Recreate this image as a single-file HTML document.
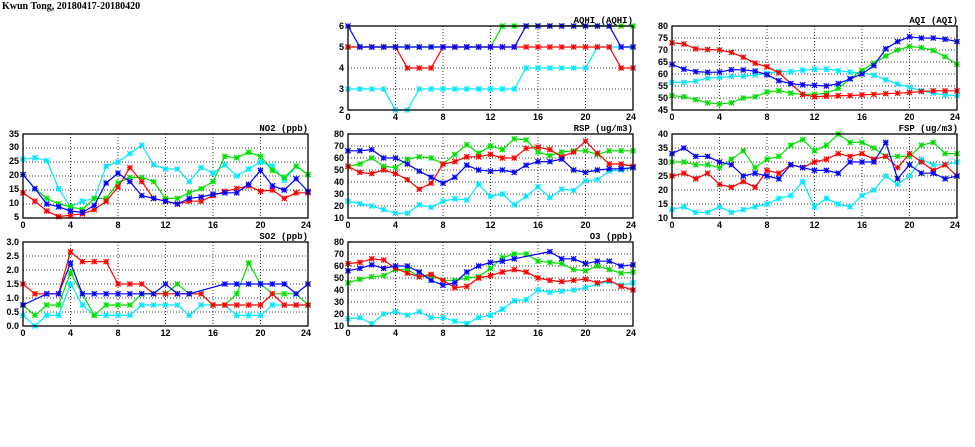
<!DOCTYPE html>
<html><head><meta charset="utf-8"><style>
html,body{margin:0;padding:0;background:#fff;}
svg{display:block;}
.t{font-family:"Liberation Serif",serif;font-weight:bold;font-size:10px;}
.ti{font-family:"Liberation Mono",monospace;font-weight:bold;font-size:9px;}
.tk{font-family:"Liberation Sans",sans-serif;font-weight:bold;font-size:9px;}
</style></head><body>
<svg id="s" width="975" height="447" viewBox="0 0 975 447" xmlns="http://www.w3.org/2000/svg">
<text class="t" x="2" y="9">Kwun Tong, 20180417-20180420</text>
<g id="plots"></g>
<!-- titles -->
<g class="ti" text-anchor="end">
<text x="308" y="131">NO2 (ppb)</text>
<text x="308" y="239">SO2 (ppb)</text>
<text x="633" y="23">AQHI (AQHI)</text>
<text x="633" y="131">RSP (ug/m3)</text>
<text x="633" y="239">O3 (ppb)</text>
<text x="958" y="23">AQI (AQI)</text>
<text x="958" y="131">FSP (ug/m3)</text>
</g>
<!-- y tick labels -->
<g class="tk" text-anchor="end">
<text x="19" y="220">5</text><text x="19" y="206">10</text><text x="19" y="192">15</text><text x="19" y="178">20</text><text x="19" y="164">25</text><text x="19" y="150">30</text><text x="19" y="137">35</text>
<text x="19" y="329">0.0</text><text x="19" y="315">0.5</text><text x="19" y="301">1.0</text><text x="19" y="287">1.5</text><text x="19" y="273">2.0</text><text x="19" y="259">2.5</text><text x="19" y="245">3.0</text>
<text x="344" y="113">2</text><text x="344" y="92">3</text><text x="344" y="71">4</text><text x="344" y="50">5</text><text x="344" y="29">6</text>
<text x="344" y="221">10</text><text x="344" y="209">20</text><text x="344" y="197">30</text><text x="344" y="185">40</text><text x="344" y="173">50</text><text x="344" y="161">60</text><text x="344" y="149">70</text><text x="344" y="137">80</text>
<text x="344" y="329">10</text><text x="344" y="317">20</text><text x="344" y="305">30</text><text x="344" y="293">40</text><text x="344" y="281">50</text><text x="344" y="269">60</text><text x="344" y="257">70</text><text x="344" y="245">80</text>
<text x="668" y="113">45</text><text x="668" y="101">50</text><text x="668" y="89">55</text><text x="668" y="77">60</text><text x="668" y="65">65</text><text x="668" y="53">70</text><text x="668" y="41">75</text><text x="668" y="29">80</text>
<text x="668" y="221">10</text><text x="668" y="207">15</text><text x="668" y="193">20</text><text x="668" y="179">25</text><text x="668" y="165">30</text><text x="668" y="151">35</text><text x="668" y="137">40</text>
</g>
<!-- x tick labels -->
<g class="tk" text-anchor="middle">
<text x="23" y="228">0</text><text x="70.5" y="228">4</text><text x="118" y="228">8</text><text x="165.5" y="228">12</text><text x="213" y="228">16</text><text x="260.5" y="228">20</text><text x="306" y="228">24</text>
<text x="23" y="336">0</text><text x="70.5" y="336">4</text><text x="118" y="336">8</text><text x="165.5" y="336">12</text><text x="213" y="336">16</text><text x="260.5" y="336">20</text><text x="306" y="336">24</text>
<text x="348" y="120">0</text><text x="395.5" y="120">4</text><text x="443" y="120">8</text><text x="490.5" y="120">12</text><text x="538" y="120">16</text><text x="585.5" y="120">20</text><text x="631" y="120">24</text>
<text x="348" y="228">0</text><text x="395.5" y="228">4</text><text x="443" y="228">8</text><text x="490.5" y="228">12</text><text x="538" y="228">16</text><text x="585.5" y="228">20</text><text x="631" y="228">24</text>
<text x="348" y="336">0</text><text x="395.5" y="336">4</text><text x="443" y="336">8</text><text x="490.5" y="336">12</text><text x="538" y="336">16</text><text x="585.5" y="336">20</text><text x="631" y="336">24</text>
<text x="672" y="120">0</text><text x="719.5" y="120">4</text><text x="767" y="120">8</text><text x="814.5" y="120">12</text><text x="862" y="120">16</text><text x="909.5" y="120">20</text><text x="955" y="120">24</text>
<text x="672" y="228">0</text><text x="719.5" y="228">4</text><text x="767" y="228">8</text><text x="814.5" y="228">12</text><text x="862" y="228">16</text><text x="909.5" y="228">20</text><text x="955" y="228">24</text>
</g>
</svg>
<script>
var W=285,H=84,NS="http://www.w3.org/2000/svg",g=document.getElementById("plots");
function el(n,a){var e=document.createElementNS(NS,n);for(var k in a)e.setAttribute(k,a[k]);g.appendChild(e);return e;}
var C={c:"#00e8ff",g:"#00e000",r:"#ff0000",b:"#0000ff"};
var P=[
{x:23,y:134,mn:5,mx:35,st:5,d:{
c:[26,26.5,25.5,15.5,9,11,12,23.5,25,28,31,24,22.5,22.5,18,23,21,24,20,22.5,25,23.5,18.5,23.5,20.5],
g:[20.5,15.5,12,10,9,8,12,12,17.5,19.5,19.5,18,12,12,14,15.5,18,27,26.5,28.5,27,22,19.5,23.5,20.5],
r:[14,11,7.5,5.5,6,6.5,8,11,16,23,18,12,11,10,11,11,13,14.5,15.5,16.5,14.5,15,12,14,14],
b:[20.5,15.5,10,9,7.5,7,9.5,17.5,21,18,13,12,11,10,12,12.5,13.5,14,14,17,22,16.5,15,19,14.5]}},
{x:23,y:242,mn:0,mx:3,st:0.5,d:{
c:[0.38,0,0.38,0.38,1.5,0.75,0.38,0.38,0.38,0.38,0.75,0.75,0.75,0.75,0.38,0.75,0.75,0.75,0.38,0.38,0.38,0.75,0.75,0.75,0.75],
g:[0.75,0.38,0.75,0.75,1.9,1.15,0.38,0.75,0.75,0.75,1.15,1.15,1.15,1.5,1.15,1.15,0.75,0.75,1.15,2.25,1.5,1.15,1.15,1.15,0.75],
r:[1.5,1.15,1.15,1.15,2.65,2.3,2.3,2.3,1.5,1.5,1.5,1.15,1.15,1.15,1.15,1.15,0.75,0.75,0.75,0.75,0.75,1.15,0.75,0.75,0.75],
b:[0.75,null,1.15,1.15,2.25,1.15,1.15,1.15,1.15,1.15,1.15,1.15,1.5,1.15,1.15,null,null,1.5,1.5,1.5,1.5,1.5,1.5,1.15,1.5]}},
{x:348,y:26,mn:2,mx:6,st:1,d:{
c:[3,3,3,3,2,2,3,3,3,3,3,3,3,3,3,4,4,4,4,4,4,5,5,5,5],
g:[5,5,5,5,5,5,5,5,5,5,5,5,5,6,6,6,6,6,6,6,6,6,6,6,6],
r:[5,5,5,5,5,4,4,4,5,5,5,5,5,5,5,5,5,5,5,5,5,5,5,4,4],
b:[6,5,5,5,5,5,5,5,5,5,5,5,5,5,5,6,6,6,6,6,6,6,6,5,5]}},
{x:348,y:134,mn:10,mx:80,st:10,d:{
c:[24,22,20,17,14,14,21,19,24,26,25,38,28,30,21,28,36,27,34,33,41,42,49,50,52],
g:[53,55,60,53,52,59,61,60,55,63,71,64,70,67,76,75,65,62,65,66,66,63,66,66,66],
r:[53,48,47,50,47,42,34,39,55,57,61,61,63,60,60,68,69,67,61,65,74,64,55,55,53],
b:[66,66,67,60,60,55,49,44,39,44,54,50,49,50,48,54,57,57,59,50,48,50,51,51,52]}},
{x:348,y:242,mn:10,mx:80,st:10,d:{
c:[16,17,12,20,22,19,22,17,17,14,12,17,19,24,31,32,40,38,39,40,42,45,47,44,46],
g:[46,49,51,52,57,57,51,52,48,48,50,51,58,67,70,70,64,63,62,57,56,60,57,54,55],
r:[62,63,66,65,58,54,51,53,48,42,43,50,52,55,57,55,50,48,47,48,49,46,48,43,40],
b:[56,58,61,58,60,60,55,48,44,46,55,60,63,64,66,null,null,72,66,66,62,64,64,60,61]}},
{x:672,y:26,mn:45,mx:80,st:5,d:{
c:[56.5,56.5,57,58.3,58.5,59,59,59.6,60.3,61,61,61.6,62,62,61.4,60.8,60.5,59.5,57.6,55.8,54.5,53,52,51.3,51],
g:[51,50.5,49.3,48,47.5,48,50,50.5,52.5,53,52,51.5,51.5,52,54,58,61.5,64.5,67.5,70,71.5,71,69.8,67.2,64],
r:[73,72.5,70.5,70.2,70,69,67,64.5,63,60.5,56,51.5,50.5,50.8,51,51,51.3,51.5,51.8,52,52.3,52.7,53,53,53],
b:[64,62,61,60.7,60.8,61.8,61.7,61.2,59.7,57.2,56,55.5,55.3,55,56,58,60,63.5,70.5,73.5,75.5,75,75,74.5,73.5]}},
{x:672,y:134,mn:10,mx:40,st:5,d:{
c:[13,14,12,12,14,12,13,14,15,17,18,23,14,17,15,14,18,20,25,22,25,31,29,29,30],
g:[30,30,29,29,28,31,34,28,31,32,36,38,34,36,40,37,37,35,32,32,32,36,37,33,33],
r:[25,26,24,26,22,21,23,21,27,26,29,28,30,31,33,32,33,31,32,28,33,30,27,29,25],
b:[33,35,32,32,30,29,25,26,25,24,29,28,27,27,26,30,30,30,37,24,29,26,26,24,25]}}
];
P.forEach(function(p){
  el("rect",{x:p.x,y:p.y,width:W,height:H,fill:"#fff"});
  for(var v=p.mn+p.st;v<p.mx-1e-9;v+=p.st){var yy=p.y+H-(v-p.mn)/(p.mx-p.mn)*H;
    el("line",{x1:p.x,x2:p.x+W,y1:yy,y2:yy,stroke:"#000","stroke-width":0.8,"stroke-dasharray":"1,2"});}
  for(var h=4;h<24;h+=4){var xx=p.x+h/24*W;
    el("line",{x1:xx,x2:xx,y1:p.y,y2:p.y+H,stroke:"#000","stroke-width":0.8,"stroke-dasharray":"1,2"});}
  ["c","g","r","b"].forEach(function(k){
    var a=p.d[k],pts=[],mk=[];
    a.forEach(function(v,i){if(v===null)return;var xx=p.x+i/24*W,yy=p.y+H-(v-p.mn)/(p.mx-p.mn)*H;pts.push(xx.toFixed(1)+","+yy.toFixed(1));mk.push([xx,yy]);});
    el("polyline",{points:pts.join(" "),fill:"none",stroke:C[k],"stroke-width":1.2});
    mk.forEach(function(m){var s=2.6,x=m[0],y=m[1];
      el("path",{d:"M"+(x-s)+" "+(y-s)+"L"+(x+s)+" "+(y+s)+"M"+(x-s)+" "+(y+s)+"L"+(x+s)+" "+(y-s)+"M"+(x-s)+" "+y+"L"+(x+s)+" "+y+"M"+x+" "+(y-s)+"L"+x+" "+(y+s),stroke:C[k],"stroke-width":1.2,fill:"none"});});
  });
  el("rect",{x:p.x,y:p.y,width:W,height:H,fill:"none",stroke:"#000","stroke-width":1.3});
});
</script>
</body></html>
